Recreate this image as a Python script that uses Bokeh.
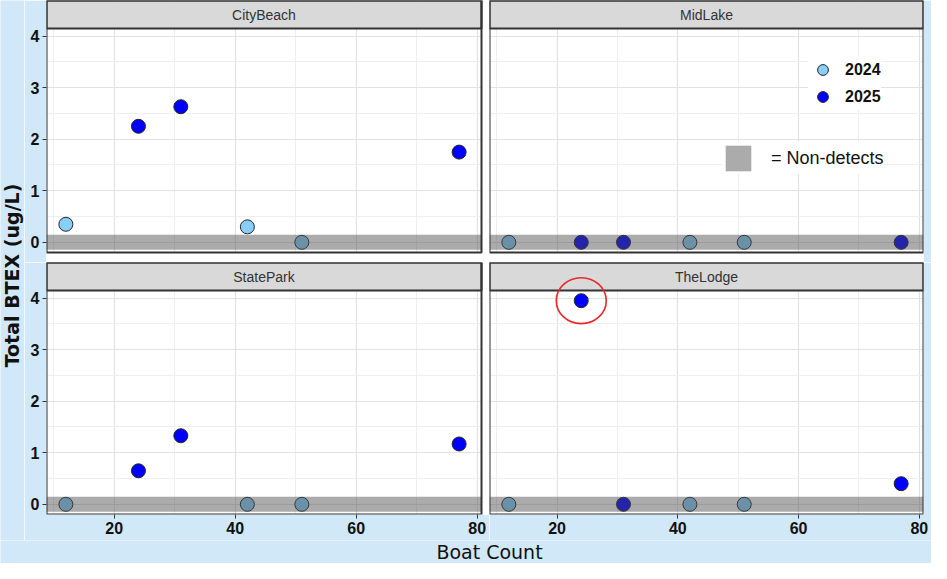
import math
from bokeh.plotting import figure
from bokeh.models import Range1d, FixedTicker, Legend, LegendItem
from bokeh.layouts import row, column
from bokeh.embed import file_html
from bokeh.resources import INLINE
from bokeh.core.properties import value

# ---------------- data ----------------
sites = ["CityBeach", "MidLake", "StatePark", "TheLodge"]
years = ["2024", "2025"]
boat_count_2024 = [12, 42, 51]
boat_count_2025 = [24, 31, 77]
citybeach_2024 = [0.35, 0.30, 0.0]
citybeach_2025 = [2.25, 2.63, 1.75]
midlake_2024 = [0.0, 0.0, 0.0]
midlake_2025 = [0.0, 0.0, 0.0]
statepark_2024 = [0.0, 0.0, 0.0]
statepark_2025 = [0.65, 1.33, 1.17]
thelodge_2024 = [0.0, 0.0, 0.0]
thelodge_2025 = [3.95, 0.0, 0.40]
x_ticks = [20, 40, 60, 80]
y_ticks = [0, 1, 2, 3, 4]
nondetect_level = 0.0
nondetect_label = "= Non-detects"
x_title = "Boat Count"
y_title = "Total BTEX (ug/L)"
highlight_site = "TheLodge"
highlight_index = 0

values = {
    "CityBeach": (citybeach_2024, citybeach_2025),
    "MidLake": (midlake_2024, midlake_2025),
    "StatePark": (statepark_2024, statepark_2025),
    "TheLodge": (thelodge_2024, thelodge_2025),
}

# ---------------- style / layout ----------------
BG = "#d0e8f8"
C24 = "#87cefa"
C25 = "#0000ff"
BORDER = "#333333"
PW = {0: 435, 1: 434}
LEFT_AX, GAP_X, GAP_Y, STRIP, PH, BOT_AX, RIGHT_PAD = 22, 8, 10, 28, 224, 26, 8
XLO, XHI = 8.8, 80.7
YLO, YHI = -0.1975, 4.1475
BAND_H = 0.145
x_minor = [10, 30, 50, 70]
y_minor = [0.5, 1.5, 2.5, 3.5]


def style_axis(ax, ticks):
    ax.ticker = FixedTicker(ticks=ticks)
    ax.major_label_text_font = "Liberation Sans"
    ax.major_label_text_font_style = "bold"
    ax.major_label_text_font_size = "16px"
    ax.major_label_text_color = "#111111"
    ax.major_tick_out = 4
    ax.major_tick_in = 0
    ax.major_tick_line_color = BORDER
    ax.minor_tick_line_color = None
    ax.axis_line_color = None
    ax.major_label_standoff = 3


def make_panel(site, col, rw):
    pw = PW[col]
    xppu = pw / (XHI - XLO)
    yppu = PH / (YHI - YLO)
    strip_u = STRIP / yppu
    x_end = XHI + (GAP_X / xppu if col == 0 else 0)
    y_start = YLO - (GAP_Y / yppu if rw == 0 else 0)
    y_top = YHI + strip_u
    frame_w = pw + (GAP_X if col == 0 else 0)
    frame_h = STRIP + PH + (GAP_Y if rw == 0 else 0)
    width = frame_w + (LEFT_AX if col == 0 else 0) + (RIGHT_PAD if col == 1 else 0)
    height = frame_h + (BOT_AX if rw == 1 else 0)
    p = figure(width=width, height=height, title=None,
               x_range=Range1d(XLO, x_end), y_range=Range1d(y_start, y_top),
               output_backend="svg", toolbar_location=None,
               x_axis_location="below" if rw == 1 else None,
               y_axis_location="left" if col == 0 else None,
               min_border_left=LEFT_AX if col == 0 else 0,
               min_border_right=RIGHT_PAD if col == 1 else 0,
               min_border_top=0, min_border_bottom=BOT_AX if rw == 1 else 0,
               background_fill_color="white", border_fill_color=BG,
               outline_line_color=None)
    p.xgrid.ticker = FixedTicker(ticks=x_ticks, minor_ticks=x_minor)
    p.ygrid.ticker = FixedTicker(ticks=y_ticks, minor_ticks=y_minor)
    for g in (p.xgrid, p.ygrid):
        g.grid_line_color = "#e2e2e2"
        g.grid_line_width = 1.2
        g.minor_grid_line_color = "#eeeeee"
        g.minor_grid_line_width = 1
    if col == 0:
        style_axis(p.yaxis[0], y_ticks)
    if rw == 1:
        style_axis(p.xaxis[0], x_ticks)

    # white gaps between panels
    if col == 0:
        p.quad(left=[XHI], right=[x_end], bottom=[y_start], top=[y_top],
               fill_color="white", line_color=None)
    if rw == 0:
        p.quad(left=[XLO], right=[x_end], bottom=[y_start], top=[YLO],
               fill_color="white", line_color=None)

    v24, v25 = values[site]
    r24 = p.scatter(x=boat_count_2024, y=v24, size=14, fill_color=C24,
                    line_color="#262626", line_width=1)
    r25 = p.scatter(x=boat_count_2025, y=v25, size=14, fill_color=C25,
                    line_color="#262626", line_width=1)
    band = p.quad(left=[XLO], right=[XHI], bottom=[nondetect_level - BAND_H],
                  top=[nondetect_level + BAND_H], fill_color="#4d4d4d",
                  fill_alpha=0.47, line_color=None)
    # strip
    p.quad(left=[XLO], right=[XHI], bottom=[YHI], top=[y_top],
           fill_color="#d9d9d9", line_color=BORDER, line_width=2)
    p.quad(left=[XLO], right=[XHI], bottom=[YLO], top=[y_top],
           fill_color=None, line_color=BORDER, line_width=2)
    p.text(x=[(XLO + XHI) / 2], y=[YHI + strip_u / 2], text=[site],
           text_align="center", text_baseline="middle",
           text_font=value("Liberation Sans"), text_font_size="14px",
           text_color="#333333")

    if site == highlight_site:
        p.ellipse(x=[boat_count_2025[highlight_index]], y=[v25[highlight_index]],
                  width=50, height=46, width_units="screen", height_units="screen",
                  fill_color=None, line_color="#e82a2a", line_width=1.6)

    if site == "MidLake":
        leg1 = Legend(items=[LegendItem(label=years[0], renderers=[r24]),
                             LegendItem(label=years[1], renderers=[r25])],
                      location=(319, 152), orientation="vertical",
                      background_fill_color="white", background_fill_alpha=1.0,
                      border_line_color=None, padding=5, spacing=0, margin=0,
                      glyph_width=29, glyph_height=27, label_standoff=8,
                      label_height=20,
                      label_text_font="Liberation Sans",
                      label_text_font_style="bold",
                      label_text_font_size="16px", label_text_color="#111111")
        leg2 = Legend(items=[LegendItem(label=nondetect_label, renderers=[band])],
                      location=(233, 88),
                      background_fill_color="white", background_fill_alpha=1.0,
                      border_line_color=None, padding=13, spacing=0, margin=0,
                      glyph_width=32, glyph_height=32, label_standoff=17,
                      label_text_font="Liberation Sans",
                      label_text_font_size="18px", label_text_color="#111111")
        p.add_layout(leg1)
        p.add_layout(leg2)
    return p


def blank(w, h):
    f = figure(width=w, height=h, title=None, x_range=Range1d(0, w),
               y_range=Range1d(0, h), output_backend="svg",
               toolbar_location=None, x_axis_location=None,
               y_axis_location=None, min_border=0,
               min_border_left=0, min_border_right=0,
               min_border_top=0, min_border_bottom=0,
               background_fill_color=BG, border_fill_color=BG,
               outline_line_color=None)
    f.xgrid.visible = False
    f.ygrid.visible = False
    return f


panels = [make_panel(s, i % 2, i // 2) for i, s in enumerate(sites)]
top_h = panels[0].height
bot_h = panels[2].height

ytf = blank(24, top_h + bot_h)
ytf.text(x=[11], y=[(top_h + bot_h) / 2 - 5], text=[y_title], angle=math.pi / 2,
         text_align="center", text_baseline="middle",
         text_font=value("DejaVu Sans"), text_font_style="bold",
         text_font_size="19px", text_color="#111111")

total_w = 24 + panels[0].width + panels[1].width
xt_h = 563 - top_h - bot_h
xtf = blank(total_w, xt_h)
xtf.text(x=[489], y=[xt_h / 2], text=[x_title], text_align="center",
         text_baseline="middle", text_font=value("DejaVu Sans"),
         text_font_size="19px", text_color="#111111")

layout = column(
    row(ytf, column(row(panels[0], panels[1]), row(panels[2], panels[3]))),
    xtf,
)

open("out.html", "w").write(file_html(layout, INLINE))
